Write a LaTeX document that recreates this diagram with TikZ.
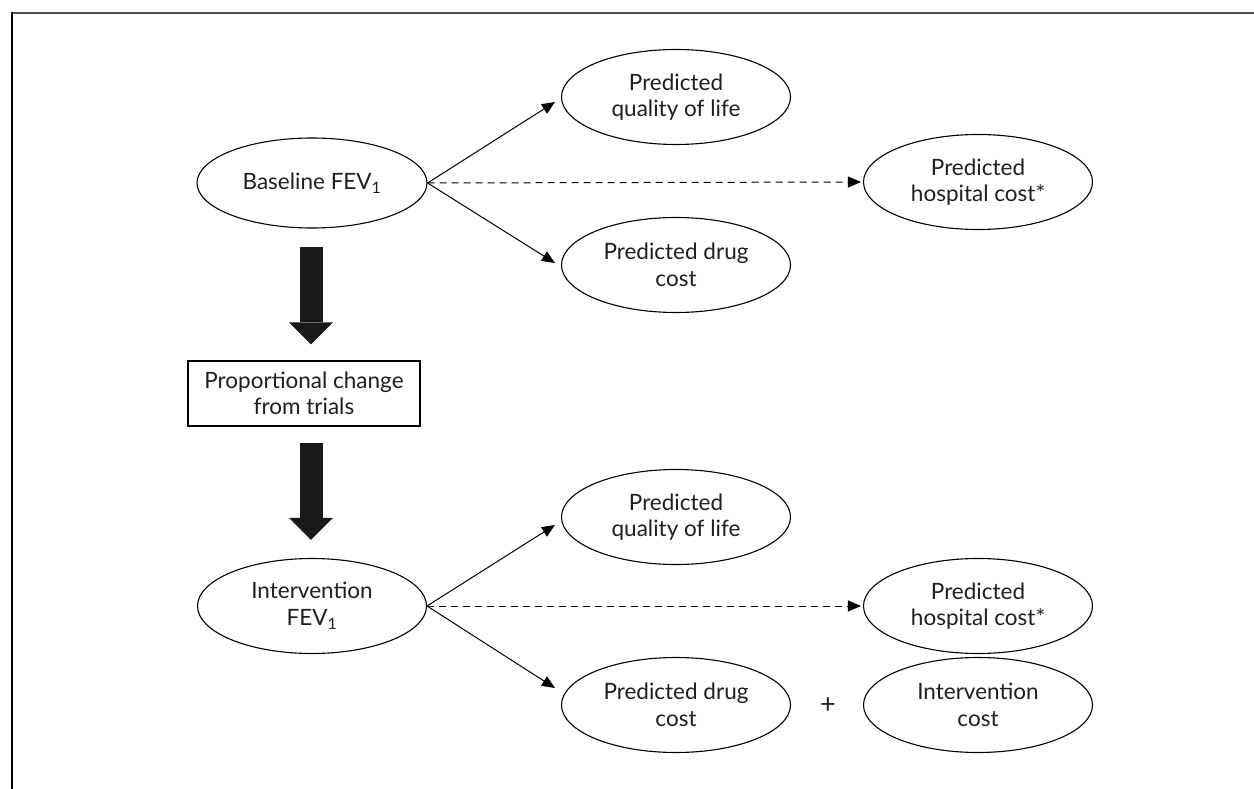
\documentclass[tikz,border=0pt]{standalone}
\usepackage{fontspec}
\setmainfont{Lato}
\usetikzlibrary{shapes.geometric,arrows.meta,calc}

\begin{document}
\begin{tikzpicture}[x=1pt,y=-1pt,
  every node/.style={font=\fontsize{22.5}{26.5}\selectfont, align=center, text=black!88},
  oval/.style={ellipse, draw, line width=1.1pt, minimum width=229pt, minimum height=95pt, inner sep=0pt},
  stepbox/.style={rectangle, draw, line width=1.1pt, minimum width=232pt, minimum height=65pt, inner sep=0pt},
  arr/.style={line width=1pt, -{Triangle[length=13pt,width=11pt]}},
  dasharr/.style={arr, dash pattern=on 7pt off 5pt},
  bigarrow/.style={line width=23pt, black!90, -{Triangle[length=22pt,width=44pt,line width=0pt]}}]

\useasboundingbox (0,0) rectangle (1254,789);

% frame edges
\draw[line width=2pt, black!70] (11,13) -- (1254,13);
\draw[line width=1.5pt] (12,12) -- (12,789);

% baseline branch
\node[oval, minimum height=90pt, minimum width=230pt] (base) at (312,183) {Baseline FEV\textsubscript{1}};
\node[oval] (qol1) at (676,97) {Predicted\\quality of life};
\node[oval] (hosp1) at (978,182) {Predicted\\hospital cost*};
\node[oval] (drug1) at (676,265) {Predicted drug\\cost};

% trial adjustment
\node[stepbox] (box) at (304,393.5) {Proportional change\\from trials};

% intervention branch
\node[oval] (inter) at (312,606) {Intervention\\FEV\textsubscript{1}};
\node[oval] (qol2) at (676,517) {Predicted\\quality of life};
\node[oval] (hosp2) at (978,606) {Predicted\\hospital cost*};
\node[oval] (drug2) at (676,705) {Predicted drug\\cost};
\node[oval] (icost) at (978,705) {Intervention\\cost};
\node[font=\fontsize{27}{30}\selectfont] (plus) at (828,706) {+};

% connectors
\draw[arr] (base.east) -- ([shift={(-6,5)}]qol1.west);
\draw[arr] (base.east) -- ([shift={(-6,-2)}]drug1.west);
\draw[dasharr] (base.east) -- ([xshift=-2pt]hosp1.west);

\draw[arr] (inter.east) -- ([shift={(-6,8)}]qol2.west);
\draw[arr] (inter.east) -- ([shift={(-6,-17)}]drug2.west);
\draw[dasharr] (inter.east) -- ([xshift=-2pt]hosp2.west);

\draw[bigarrow] ([shift={(-1,18)}]base.south) -- ([shift={(7,-16)}]box.north);
\draw[bigarrow] ([shift={(7,16)}]box.south) -- ([shift={(-1,-18)}]inter.north);

\end{tikzpicture}
\end{document}
